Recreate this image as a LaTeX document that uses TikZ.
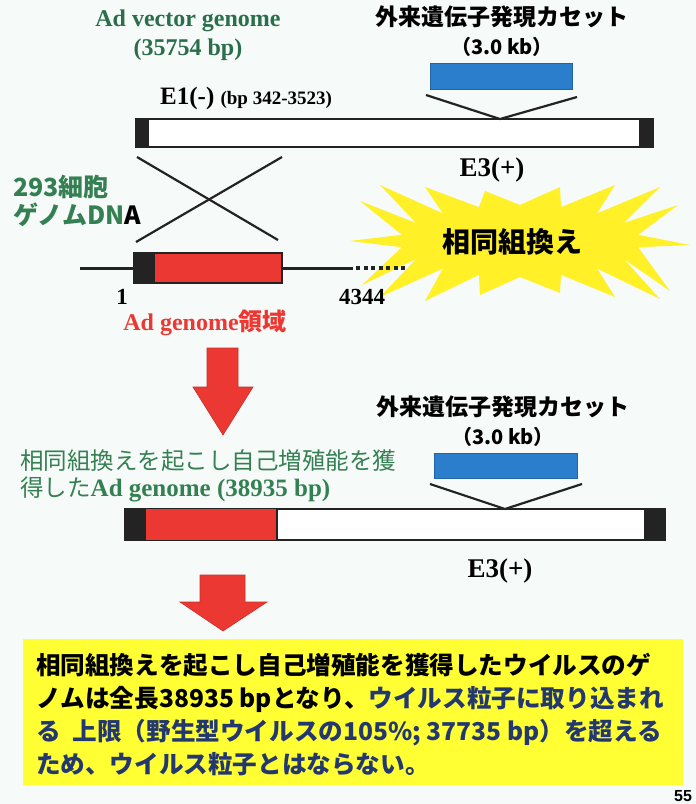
\documentclass[tikz,border=0pt]{standalone}
\usepackage{fontspec}
\setmainfont{Liberation Serif}
\newfontfamily\jpfont{Noto Sans CJK JP}
\newfontfamily\arialfont{Liberation Sans}
\usetikzlibrary{positioning}

\definecolor{bgcol}{RGB}{246,250,249}
\definecolor{vecgreen}{RGB}{42,110,75}
\definecolor{txtgreen}{RGB}{52,128,82}
\definecolor{adred}{RGB}{236,56,50}
\definecolor{cassblue}{RGB}{42,126,204}
\definecolor{burstyellow}{RGB}{255,240,40}
\definecolor{boxyellow}{RGB}{255,255,52}
\definecolor{navy}{RGB}{36,56,112}
\definecolor{barblack}{RGB}{35,35,35}

\tikzset{
  genome/.style={draw=barblack, line width=2.5pt, fill=white, inner sep=0pt},
  cassette/.style={draw=cassblue!80!black, line width=0.8pt, fill=cassblue,
    inner sep=0pt, minimum width=142pt, minimum height=26pt},
  vlink/.style={draw=barblack, line width=2.2pt},
  serifb/.style={font=\bfseries\fontsize{24}{26}\selectfont, inner sep=0pt},
  jpb/.style={font=\jpfont\bfseries\fontsize{23}{26}\selectfont, inner sep=0pt},
  bigarrow/.style={fill=adred, draw=adred!85!black, line width=0.6pt},
}

\begin{document}
\begin{tikzpicture}[x=1pt, y=-1pt]
\fill[bgcol] (0,0) rectangle (696,804);
\useasboundingbox (0,0) rectangle (696,804);

% vector genome
\node[serifb, vecgreen] (vtitle) at (188,21) {Ad vector genome};
\node[serifb, vecgreen, below=6pt of vtitle] (vlen) {(35754 bp)};
\node[jpb] (cas1title) at (502,17) {外来遺伝子発現カセット};
\node[jpb, font=\jpfont\bfseries\fontsize{20}{22}\selectfont, below=9pt of cas1title] (cas1len) {（3.0 kb）};
\node[cassette] (cas1) at (501,76.5) {};
\node[serifb, anchor=west, font=\bfseries\fontsize{25}{27}\selectfont] (e1) at (160,98) {E1(-) {\fontsize{19}{21}\selectfont (bp 342-3523)}};

\node[genome, minimum width=517pt, minimum height=28pt] (vec) at (394.5,133) {};
\fill[barblack] (vec.north west) rectangle ([xshift=14pt]vec.south west);
\fill[barblack] ([xshift=-15pt]vec.north east) rectangle (vec.south east);
\coordinate (ins1) at (500,119);
\coordinate (v1l) at (426,95);
\coordinate (v1r) at (577,97);
\draw[vlink] (v1l) -- (ins1) -- (v1r);
\node[serifb, font=\bfseries\fontsize{27}{29}\selectfont] (e3a) at (492,170) {E3(+)};

% crossing over
\coordinate (xa1) at (137,157);
\coordinate (xa2) at (278,240);
\coordinate (xb1) at (282,157);
\coordinate (xb2) at (136,242);
\draw[vlink] (xa1) -- (xa2);
\draw[vlink] (xb1) -- (xb2);

\node[jpb, txtgreen, anchor=west, font=\jpfont\bfseries\fontsize{25}{27}\selectfont] (cell) at (13,187) {293細胞};
\node[jpb, txtgreen, anchor=west, font=\jpfont\bfseries\fontsize{25}{27}\selectfont] (cellgen) at (13,215) {ゲノムDN{\color{black}A}};

% burst
\begin{scope}[shift={(520,241)}]
\fill[burstyellow] (170,4)
  \foreach \a/\r/\s in {0/170/4, 20/150/50, 40/140/58, 60/95/56, 80/40/52,
     100/-40/54, 120/-95/60, 140/-140/56, 160/-158/44, 180/-170/0,
     200/-160/-40, 220/-140/-56, 240/-95/-54, 260/-35/-50, 280/40/-54,
     300/95/-56, 320/140/-54, 340/158/-36} {
    -- (\r,\s) -- ({\a+10}:120 and 36) } -- cycle;
\end{scope}
\node[jpb, font=\jpfont\bfseries\fontsize{28}{30}\selectfont] (homrec) at (512,242) {相同組換え};

% 293 cell DNA
\coordinate (dnaL) at (80,268);
\coordinate (dnaR) at (353,268);
\coordinate (dotR) at (405,268);
\draw[barblack, line width=3pt] (dnaL) -- (dnaR);
\draw[barblack, line width=4.5pt, dash pattern=on 4pt off 3.5pt] ([xshift=3pt]dnaR) -- (dotR);
\node[genome, fill=adred, minimum width=148pt, minimum height=30pt] (hek) at (208,268) {};
\fill[barblack] (hek.north west) rectangle ([xshift=22pt]hek.south west);
\node[serifb, font=\bfseries\fontsize{23}{25}\selectfont] (pos1) at (122,297) {1};
\node[serifb, font=\bfseries\fontsize{23}{25}\selectfont] (pos2) at (362,297) {4344};
\node[serifb, adred] (adreg) at (205,323) {Ad genome{\jpfont 領域}};

% first step
\fill[bigarrow] (207,348) -- (238,348) -- (238,387) -- (253,387) -- (223,435)
  -- (193,387) -- (207,387) -- cycle;

% recombinant genome
\node[anchor=west, inner sep=0pt, txtgreen, font=\jpfont\fontsize{23.5}{26}\selectfont] (rtitle) at (20,461) {相同組換えを起こし自己増殖能を獲};
\node[anchor=west, inner sep=0pt, txtgreen, font=\jpfont\fontsize{23.5}{26}\selectfont] (rlen) at (20,489) {得した{\rmfamily\bfseries\fontsize{25}{27}\selectfont Ad genome (38935 bp)}};
\node[jpb] (cas2title) at (503,407) {外来遺伝子発現カセット};
\node[jpb, font=\jpfont\bfseries\fontsize{20}{22}\selectfont, below=9pt of cas2title] (cas2len) {（3.0 kb）};
\node[cassette, minimum width=143pt, minimum height=25pt] (cas2) at (505.5,465.5) {};

\node[genome, minimum width=540pt, minimum height=31pt] (rec) at (395,524.5) {};
\fill[barblack] (rec.north west) rectangle ([xshift=22pt]rec.south west);
\fill[adred] ([xshift=22pt, yshift=-1.25pt]rec.north west) rectangle ([xshift=153pt, yshift=1.25pt]rec.south west);
\draw[barblack, line width=1.5pt] ([xshift=153pt]rec.north west) -- ([xshift=153pt]rec.south west);
\fill[barblack] ([xshift=-22pt]rec.north east) rectangle (rec.south east);
\coordinate (ins2) at (505,509);
\coordinate (v2l) at (430,484);
\coordinate (v2r) at (582,484);
\draw[vlink] (v2l) -- (ins2) -- (v2r);
\node[serifb, font=\bfseries\fontsize{27}{29}\selectfont] (e3b) at (500,571) {E3(+)};

% second step
\fill[bigarrow] (200,575) -- (245,575) -- (245,602) -- (267,602) -- (223,631)
  -- (180,602) -- (200,602) -- cycle;

% conclusion
\node[fill=boxyellow, inner sep=0pt, minimum width=660pt, minimum height=146pt, anchor=north west] (summary) at (23,639) {};
\node[anchor=north west, inner sep=0pt, align=left,
  font=\jpfont\bfseries\fontsize{24.6}{33}\selectfont] (sumtext) at (36,653)
  {相同組換えを起こし自己増殖能を獲得したウイルスのゲ\\
   ノムは全長38935 bpとなり、{\color{navy}ウイルス粒子に取り込まれ}\\
   {\color{navy}る\hspace{12pt}上限（野生型ウイルスの105\%; 37735 bp）を超える}\\
   {\color{navy}ため、ウイルス粒子とはならない。}};
\node[anchor=base, inner sep=0pt, font=\arialfont\bfseries\fontsize{16}{18}\selectfont] (pagenum) at (683,801) {55};
\end{tikzpicture}
\end{document}
